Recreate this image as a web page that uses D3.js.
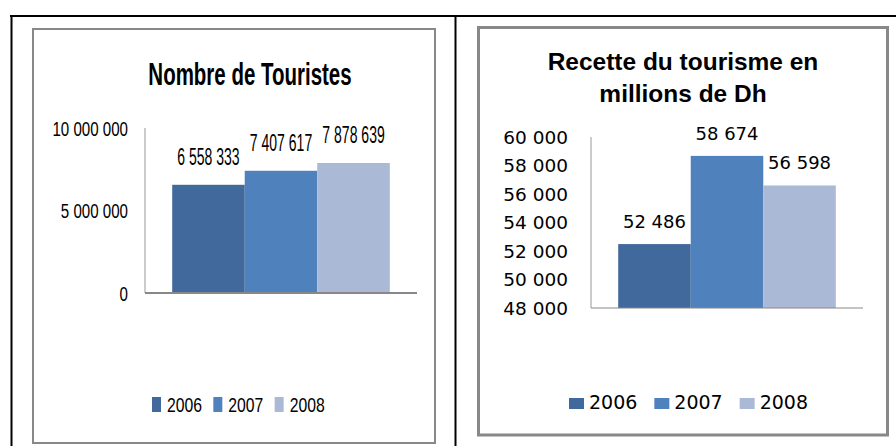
<!DOCTYPE html>
<html>
<head>
<meta charset="utf-8">
<script src="https://cdn.jsdelivr.net/npm/d3@7"></script>
<style>
  body { margin: 0; background: #fff; }
  svg { display: block; }
</style>
</head>
<body>
<script>
// data
var years = ["2006", "2007", "2008"];
var touristes = [6558333, 7407617, 7878639];
var recettes = [52486, 58674, 56598];
var ticksTouristes = [0, 5000000, 10000000];
var ticksRecettes = [48000, 50000, 52000, 54000, 56000, 58000, 60000];
var colors = ["#41699b", "#4f81bd", "#aab9d6"];

var width = 896, height = 446;

var fr = d3.formatLocale({decimal: ",", thousands: " ", grouping: [3], currency: ["", ""]});
var fmt = fr.format(",d");

var svg = d3.select("body").append("svg")
    .attr("width", width)
    .attr("height", height);

// place a text at (x,y) and squeeze/stretch it horizontally around its anchor
// (the original fonts are narrow on the left chart, wide on the right one)
function place(x, y, k) {
  return "translate(" + x + "," + y + ") scale(" + k + ",1)";
}

// table frame
svg.append("line").attr("x1", 10).attr("x2", 896).attr("y1", 16).attr("y2", 16)
  .attr("stroke", "#000").attr("stroke-width", 2);
svg.append("line").attr("x1", 11.5).attr("x2", 11.5).attr("y1", 15).attr("y2", 446)
  .attr("stroke", "#000").attr("stroke-width", 2);
svg.append("line").attr("x1", 455.5).attr("x2", 455.5).attr("y1", 15).attr("y2", 446)
  .attr("stroke", "#000").attr("stroke-width", 2);

// chart boxes
svg.append("rect").attr("x", 33).attr("y", 29).attr("width", 402).attr("height", 414)
  .attr("fill", "#fff").attr("stroke", "#888").attr("stroke-width", 2);
svg.append("rect").attr("x", 478.5).attr("y", 27.5).attr("width", 409).attr("height", 407.5)
  .attr("fill", "#fff").attr("stroke", "#888").attr("stroke-width", 3);

function drawChart(opt) {
  var g = svg.append("g");

  var y = d3.scaleLinear().domain(opt.domain).range([opt.bottom, opt.top]);
  var x0 = d3.scaleBand().domain(["all"]).range([opt.left, opt.right])
      .paddingInner(0.2).paddingOuter(0.1);
  var x1 = d3.scaleBand().domain(years).range([0, x0.bandwidth()]);

  // title
  opt.title.forEach(function(t, i) {
    g.append("text")
      .attr("transform", place(opt.titleX, opt.titleY + i * opt.titleGap, opt.titleK))
      .attr("text-anchor", "middle")
      .style("font-family", opt.titleFont).style("font-weight", "bold")
      .style("font-size", opt.titleSize + "px")
      .text(t);
  });

  // tick labels
  g.selectAll(".tick").data(opt.ticks).enter().append("text")
    .attr("transform", function(d) { return place(opt.left - opt.tickPad, y(d), opt.tickK); })
    .attr("dy", "0.36em")
    .attr("text-anchor", "end")
    .style("font-family", opt.font).style("font-size", opt.tickSize + "px")
    .attr("fill", "#000")
    .text(fmt);

  // bars
  g.selectAll(".bar").data(opt.values).enter().append("rect")
    .attr("x", function(d, i) { return x0("all") + x1(years[i]); })
    .attr("width", x1.bandwidth())
    .attr("y", function(d) { return y(d); })
    .attr("height", function(d) { return y(opt.domain[0]) - y(d); })
    .attr("fill", function(d, i) { return colors[i]; });

  // axes
  g.append("line").attr("x1", opt.left).attr("x2", opt.left)
    .attr("y1", opt.top).attr("y2", opt.bottom)
    .attr("stroke", "#999").attr("stroke-width", 1);
  g.append("line").attr("x1", opt.left).attr("x2", opt.right)
    .attr("y1", opt.bottom).attr("y2", opt.bottom)
    .attr("stroke", "#888").attr("stroke-width", opt.axisW);

  // value labels
  g.selectAll(".val").data(opt.values).enter().append("text")
    .attr("transform", function(d, i) {
      return place(x0("all") + x1(years[i]) + x1.bandwidth() / 2, y(d) - opt.valPad, opt.valK);
    })
    .attr("text-anchor", "middle")
    .style("font-family", opt.font).style("font-size", opt.valSize + "px")
    .text(fmt);

  // legend
  var lx = d3.scaleBand().domain(years).range(opt.legendRange);
  var item = g.selectAll(".leg").data(years).enter().append("g")
    .attr("transform", function(d) { return "translate(" + lx(d) + "," + opt.legendY + ")"; });
  item.append("rect")
    .attr("x", 0).attr("y", -opt.swH)
    .attr("width", opt.swW).attr("height", opt.swH)
    .attr("fill", function(d, i) { return colors[i]; });
  item.append("text")
    .attr("transform", place(opt.swW + opt.legPad, 0, opt.legK))
    .style("font-family", opt.font).style("font-size", opt.legSize + "px")
    .text(function(d) { return d; });
}

drawChart({
  values: touristes, ticks: ticksTouristes, domain: [0, 10000000],
  left: 145, right: 417, top: 128, bottom: 293, axisW: 2,
  title: ["Nombre de Touristes"], titleX: 250, titleY: 85, titleGap: 0,
  titleFont: "Liberation Sans", titleSize: 32, titleK: 0.64,
  font: "Liberation Sans", tickSize: 21, tickK: 0.72, tickPad: 17,
  valSize: 23, valK: 0.61, valPad: 20,
  legendRange: [152, 336], legendY: 412, swW: 9, swH: 15, legPad: 6, legSize: 21, legK: 0.75
});

drawChart({
  values: recettes, ticks: ticksRecettes, domain: [48000, 60000],
  left: 591, right: 863, top: 137, bottom: 308, axisW: 1,
  title: ["Recette du tourisme en", "millions de Dh"], titleX: 683, titleY: 70, titleGap: 32,
  titleFont: "Liberation Sans", titleSize: 24, titleK: 1.02,
  font: "DejaVu Sans", tickSize: 18.5, tickK: 1, tickPad: 23,
  valSize: 18, valK: 1, valPad: 16,
  legendRange: [569, 825], legendY: 409, swW: 15, swH: 11, legPad: 5, legSize: 19, legK: 1
});
</script>
</body>
</html>
